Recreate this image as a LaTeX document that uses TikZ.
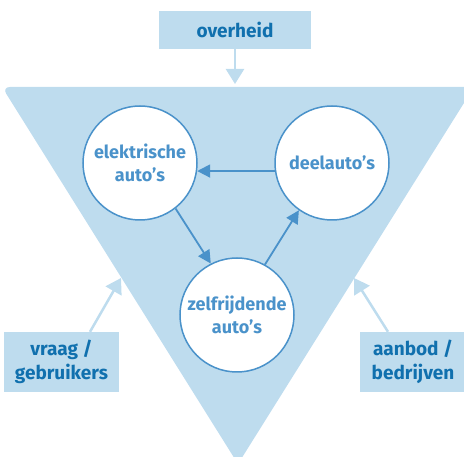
\documentclass[tikz,border=0pt]{standalone}
\usepackage{fontspec}
\setmainfont{Fira Sans}
\usetikzlibrary{arrows.meta}
\definecolor{lightblue}{HTML}{BEDCEE}
\definecolor{darkblue}{HTML}{1070AE}
\definecolor{midblue}{HTML}{4A92CA}
\begin{document}
\begin{tikzpicture}[x=1pt,y=-1pt,
  labelbox/.style={fill=lightblue, text=darkblue, font=\bfseries\fontsize{19}{24}\selectfont, align=center, inner sep=0pt},
  themecircle/.style={circle, draw=midblue, line width=1.5pt, fill=white, minimum size=114pt, text=midblue, font=\bfseries\fontsize{18}{23}\selectfont, align=center, inner sep=0pt},
  flow/.style={draw=midblue, line width=1.8pt, -{Triangle[length=13pt,width=13pt]}},
  influence/.style={draw=lightblue, line width=2.5pt, -{Triangle[length=15pt,width=18pt]}}]
\useasboundingbox (0,0) rectangle (464,457);
\clip (0,0) rectangle (464,457);
\fill[lightblue, rounded corners=8pt] (2,87) -- (474,87) -- (238,464) -- cycle;

\node[labelbox, minimum width=152pt, minimum height=38pt] (overheid) at (235,30) {overheid};
\node[labelbox, minimum width=115pt, minimum height=60pt] (vraag) at (61.5,362) {vraag /\\gebruikers};
\node[labelbox, minimum width=106pt, minimum height=60pt] (aanbod) at (413,362) {aanbod /\\bedrijven};

\coordinate (toptip) at (235,84);
\coordinate (lefttip) at (121,278);
\coordinate (righttip) at (354,278);
\draw[influence] (overheid.south) -- (toptip);
\draw[influence] ([xshift=28.5pt]vraag.north) -- (lefttip);
\draw[influence] ([xshift=-25pt]aanbod.north) -- (righttip);

\node[themecircle] (elek) at (140,163) {elektrische\\auto’s};
\node[themecircle] (deel) at (332,163) {deelauto’s};
\node[themecircle] (zelf) at (237,315) {zelfrijdende\\auto’s};

\draw[flow] (deel.188) -- (elek.-8);
\draw[flow] (elek.-52.5) -- (zelf.117.4);
\draw[flow] (zelf.61.7) -- (deel.235.8);
\end{tikzpicture}
\end{document}
